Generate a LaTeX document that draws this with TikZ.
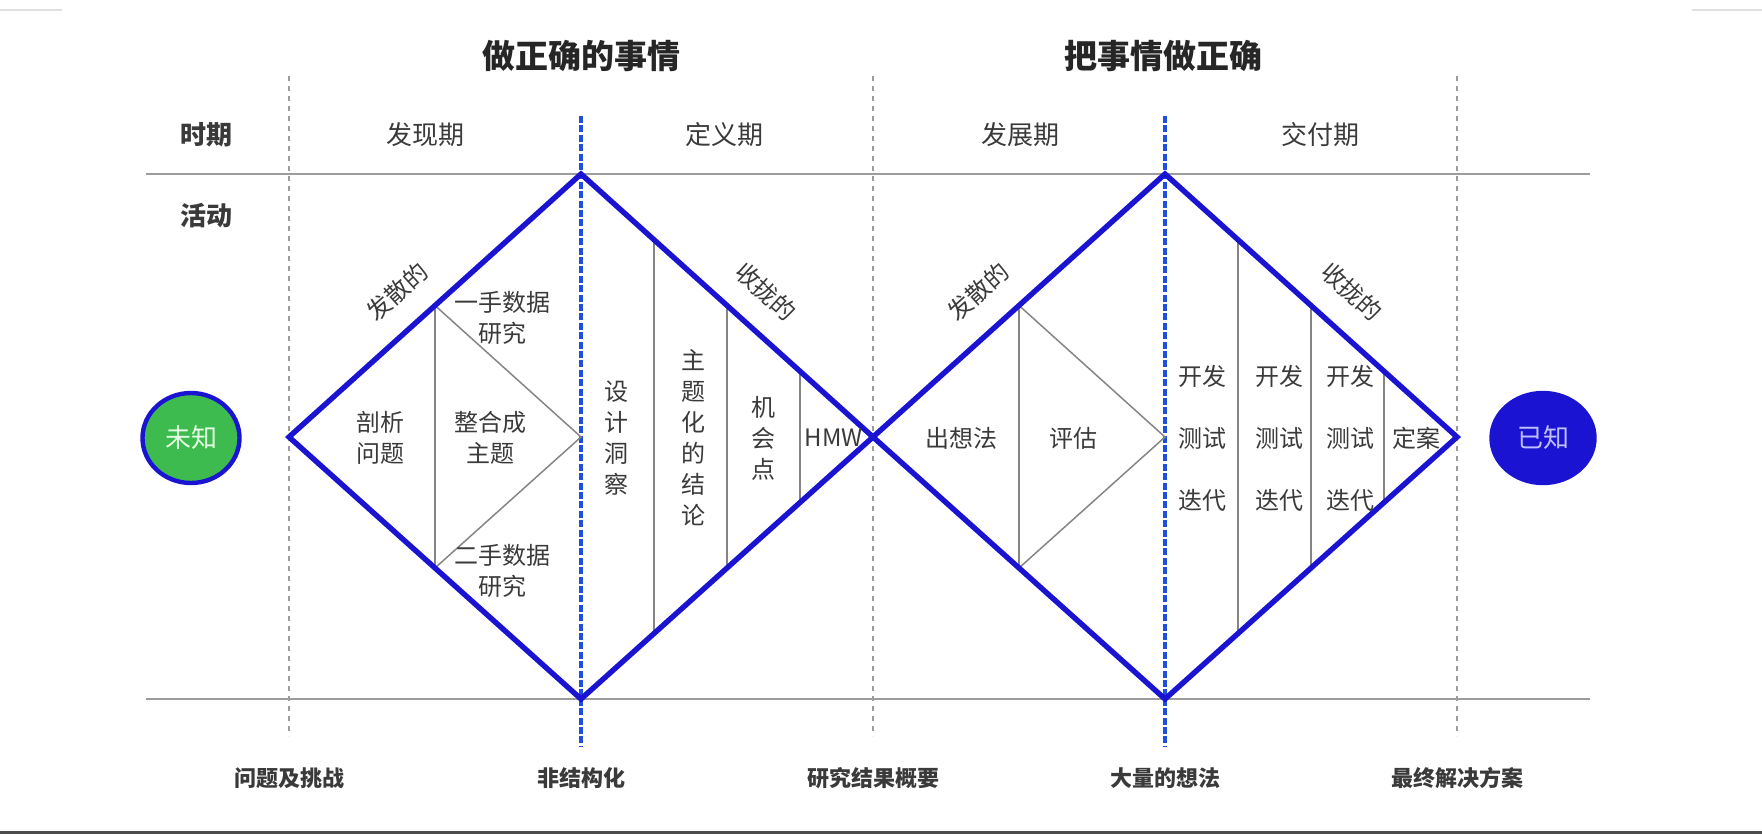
\documentclass[tikz,border=0pt]{standalone}
\usepackage{fontspec}
\setmainfont{Noto Sans CJK SC}
\usetikzlibrary{shapes.geometric,calc}

\definecolor{dblue}{HTML}{1A14D2}
\definecolor{dashblue}{HTML}{1F4FE0}
\definecolor{rulegray}{HTML}{9C9C9C}
\definecolor{txtgray}{HTML}{3A3A3A}
\definecolor{knowgreen}{HTML}{3DBB4E}

\tikzset{
  diamond line/.style={dblue, line width=2.7pt, line join=miter},
  row line/.style={rulegray, line width=1.2pt},
  phase line/.style={rulegray, line width=0.6pt, dash pattern=on 2.5pt off 2.5pt},
  center line/.style={dashblue, line width=1.7pt, dash pattern=on 3.5pt off 1.2pt},
  inner line/.style={rulegray!85!black, line width=0.75pt},
  title/.style={font=\fontsize{16.5}{20}\selectfont\bfseries, text=black!85},
  period/.style={font=\fontsize{13}{16}\selectfont, text=txtgray},
  rowlabel/.style={font=\fontsize{13}{16}\selectfont\bfseries, text=txtgray},
  cell/.style={font=\fontsize{12}{15.5}\selectfont, text=txtgray, align=center, inner sep=0pt},
  edgelabel/.style={font=\fontsize{12}{15}\selectfont, text=txtgray, inner sep=0pt},
  result/.style={font=\fontsize{11}{13}\selectfont\bfseries, text=txtgray},
  state/.style={ellipse, minimum width=48.5pt, minimum height=45pt, line width=2.2pt,
                draw=dblue, font=\fontsize{13}{16}\selectfont},
}

\begin{document}
\begin{tikzpicture}[x=0.5pt, y=-0.5pt]
  \useasboundingbox (0,0) rectangle (1762,836);

  %--- screen edges
  \draw[black!12, line width=0.8pt] (0,10) -- (62,10);
  \draw[black!12, line width=0.8pt] (1692,10) -- (1762,10);
  \draw[black!70, line width=1.5pt] (0,832) -- (1762,832);

  %--- diamond corners
  \coordinate (L1) at (289,437);
  \coordinate (T1) at (581,174);
  \coordinate (C1) at (581,437);
  \coordinate (B1) at (581,699);
  \coordinate (R1) at (873,437);
  \coordinate (T2) at (1165,174);
  \coordinate (C2) at (1165,437);
  \coordinate (B2) at (1165,699);
  \coordinate (R2) at (1457,437);

  %--- grid lines
  \draw[row line] (146,174) -- (1590,174);
  \draw[row line] (146,699) -- (1590,699);
  \foreach \x/\name in {289/ph0, 873/ph1, 1457/ph2}
    \draw[phase line] (\x,76) coordinate (\name-top) -- (\x,736) coordinate (\name-bot);
  \draw[center line] (581,116) coordinate (mid1-top) -- (581,747) coordinate (mid1-bot);
  \draw[center line] (1165,116) coordinate (mid2-top) -- (1165,747) coordinate (mid2-bot);

  %--- inner divisions, diverging halves
  \foreach \l/\t/\b/\c in {L1/T1/B1/C1, R1/T2/B2/C2} {
    \draw[inner line] ($(\l)!0.5!(\t)$) -- ($(\l)!0.5!(\b)$);
    \draw[inner line] ($(\l)!0.5!(\t)$) -- (\c) -- ($(\l)!0.5!(\b)$);
  }
  %--- inner divisions, converging halves
  \foreach \t/\b/\r in {T1/B1/R1, T2/B2/R2}
    \foreach \k in {0.25,0.5,0.75}
      \draw[inner line] ($(\t)!\k!(\r)$) -- ($(\b)!\k!(\r)$);

  %--- the two diamonds
  \draw[diamond line] (L1) -- (T1) -- (R1) -- (B1) -- cycle;
  \draw[diamond line] (R1) -- (T2) -- (R2) -- (B2) -- cycle;

  %--- titles and headers
  \node[title] (right-thing) at (581,56) {做正确的事情};
  \node[title] (thing-right) at (1163,56) {把事情做正确};
  \node[rowlabel] (period-row) at (206,135) {时期};
  \node[rowlabel] (activity-row) at (206,216) {活动};
  \node[period] (discover) at (425,135) {发现期};
  \node[period] (define) at (724,135) {定义期};
  \node[period] (develop) at (1020,135) {发展期};
  \node[period] (deliver) at (1320,135) {交付期};

  %--- start and end
  \node[state, fill=knowgreen, text=green!10] (unknown) at (191,438) {未知};
  \node[state, fill=dblue, text=blue!25!white, minimum width=51.5pt] (known) at (1543,438) {已知};

  %--- edge labels
  \node[edgelabel, rotate=42] (diverge1) at (397,292) {发散的};
  \node[edgelabel, rotate=-42] (converge1) at (766,292) {收拢的};
  \node[edgelabel, rotate=42] (diverge2) at (978,292) {发散的};
  \node[edgelabel, rotate=-42] (converge2) at (1352,292) {收拢的};

  %--- first diamond
  \node[cell] (dissect) at (380,438) {剖析\\问题};
  \node[cell] (synth) at (490,438) {整合成\\主题};
  \node[cell] (primary) at (502,318) {一手数据\\研究};
  \node[cell] (secondary) at (502,571) {二手数据\\研究};
  \node[cell] (insight) at (616,438) {设\\计\\洞\\察};
  \node[cell] (themes) at (693,438) {主\\题\\化\\的\\结\\论};
  \node[cell] (chance) at (763,438) {机\\会\\点};
  \node[cell] (hmw) at (834,438) {HMW};

  %--- second diamond
  \node[cell] (ideate) at (961,438) {出想法};
  \node[cell] (assess) at (1073,438) {评估};
  \foreach \x [count=\i] in {1202,1279,1350} {
    \node[cell] (dev-\i) at (\x,376) {开发};
    \node[cell] (test-\i) at (\x,438) {测试};
    \node[cell] (iter-\i) at (\x,500) {迭代};
  }
  \node[cell] (final) at (1416,438) {定案};

  %--- outcomes
  \node[result] (challenge) at (289,778) {问题及挑战};
  \node[result] (unstruct) at (581,778) {非结构化};
  \node[result] (summary) at (873,778) {研究结果概要};
  \node[result] (ideas) at (1165,778) {大量的想法};
  \node[result] (solution) at (1457,778) {最终解决方案};

\end{tikzpicture}
\end{document}
